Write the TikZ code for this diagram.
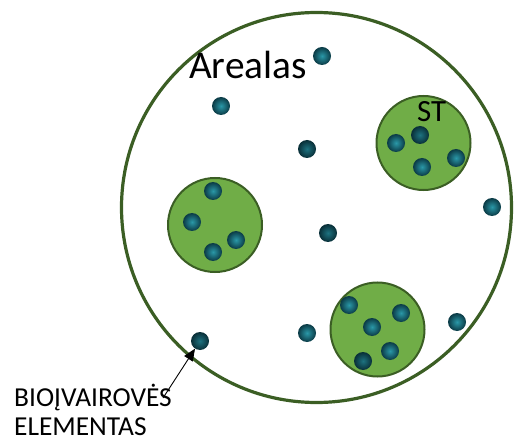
\documentclass[tikz,border=0pt]{standalone}
\usepackage{fontspec}
\setmainfont{Carlito}
\usetikzlibrary{arrows.meta}
\definecolor{rimgreen}{HTML}{3B5E24}
\definecolor{fillgreen}{HTML}{70AD47}
\definecolor{tealA}{HTML}{2A98A8}
\definecolor{tealB}{HTML}{0B3A45}
\tikzset{
  area/.style={draw=rimgreen, line width=3.2bp, circle, minimum size=390bp, inner sep=0pt},
  station/.style={draw=rimgreen, line width=2bp, fill=fillgreen, circle, minimum size=94bp, inner sep=0pt},
  dot/.style={circle, minimum size=18bp, inner sep=0pt, inner color=tealA, outer color=tealB},
  dotdark/.style={circle, minimum size=18bp, inner sep=0pt, inner color=tealA!60!tealB, outer color=tealB!80!black},
  lbl/.style={inner sep=0pt, text=black}
}
\begin{document}
\begin{tikzpicture}[x=1bp, y=-1bp]
\useasboundingbox (0,0) rectangle (514,442);
% main area
\node[area] (A) at (316.5,207.5) {};
% stations
\node[station] (S1) at (215,225) {};
\node[station] (S2) at (423.5,143) {};
\node[station] (S3) at (377.5,329.5) {};
% free dots
\node[dot] (d1) at (322,56) {};
\node[dot] (d2) at (221,106) {};
\node[dotdark] (d3) at (307,149) {};
\node[dotdark] (d4) at (328,233) {};
\node[dot] (d5) at (492,207) {};
\node[dotdark] (d6) at (200,341) {};
\node[dot] (d7) at (307,333) {};
\node[dot] (d8) at (457,322) {};
% dots in S1
\node[dot] (e1) at (213,191) {};
\node[dot] (e2) at (192,222) {};
\node[dot] (e3) at (236,240) {};
\node[dot] (e4) at (213,252) {};
% dots in S2
\node[dot] (f1) at (396,143) {};
\node[dotdark] (f2) at (420,135) {};
\node[dot] (f3) at (422,167) {};
\node[dot] (f4) at (456,158) {};
% dots in S3
\node[dot] (g1) at (349,305) {};
\node[dot] (g2) at (401,313) {};
\node[dot] (g3) at (372,327) {};
\node[dot] (g4) at (390,351) {};
\node[dotdark] (g5) at (363,361) {};
% texts
\node[lbl, anchor=base west, font=\fontsize{39.5}{47}\selectfont] (tA) at (189,79) {Arealas};
\node[lbl, anchor=base west, font=\fontsize{31}{37}\selectfont] (tS) at (417,122) {ST};
\node[lbl, anchor=base west, align=left, font=\fontsize{27.5}{29}\selectfont] (tB) at (14,435) {BIOĮVAIROVĖS\\ELEMENTAS};
% arrow
\coordinate (c0) at (163,398);
\draw[-{Triangle[length=12bp,width=10bp]}, line width=0.9bp] (c0) -- (d6);
\end{tikzpicture}
\end{document}
